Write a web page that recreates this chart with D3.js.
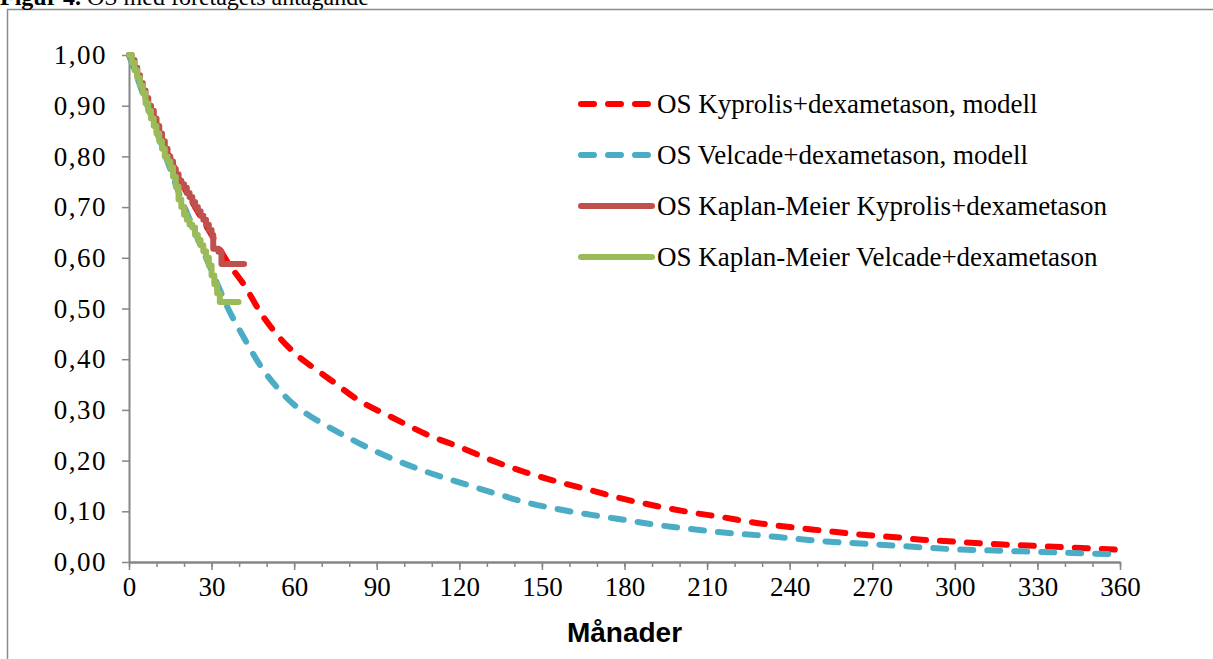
<!DOCTYPE html>
<html>
<head>
<meta charset="utf-8">
<script src="https://cdn.jsdelivr.net/npm/d3@7"></script>
<style>
  body { margin: 0; background: #fff; }
  svg { display: block; }
</style>
</head>
<body>
<div id="vis"></div>
<script>
const WIDTH = 1213;
const HEIGHT = 659;

// months / survival
const modelMonths = [0, 6, 12, 18, 24, 30, 36, 42, 48, 54, 60, 66, 72, 84, 96, 108, 120, 132, 144, 156, 168, 180, 192, 204, 216, 228, 240, 252, 264, 276, 288, 300, 312, 324, 336, 348, 360];
const kyprolisModel = [1.00, 0.92, 0.835, 0.76, 0.70, 0.645, 0.59, 0.545, 0.49, 0.447, 0.413, 0.387, 0.364, 0.317, 0.284, 0.252, 0.227, 0.200, 0.177, 0.158, 0.141, 0.124, 0.110, 0.098, 0.088, 0.077, 0.069, 0.062, 0.055, 0.050, 0.044, 0.040, 0.036, 0.033, 0.030, 0.027, 0.024];
const velcadeModel = [1.00, 0.91, 0.82, 0.73, 0.65, 0.575, 0.50, 0.44, 0.385, 0.343, 0.31, 0.287, 0.268, 0.233, 0.203, 0.178, 0.157, 0.137, 0.118, 0.104, 0.093, 0.083, 0.073, 0.065, 0.058, 0.053, 0.047, 0.041, 0.037, 0.033, 0.029, 0.025, 0.023, 0.021, 0.019, 0.017, 0.015];

const kmKyprolisMonths = [0, 1, 2, 3, 4, 5, 6, 7, 8, 9, 10, 11, 12, 13, 14, 15, 16, 17, 18, 19, 20, 21, 22, 23, 24, 25, 26, 27, 28, 29, 30, 30.6, 32.5, 33.6, 41.8];
const kmKyprolis = [1.00, 0.99, 0.975, 0.96, 0.945, 0.93, 0.915, 0.90, 0.89, 0.875, 0.86, 0.845, 0.83, 0.815, 0.80, 0.79, 0.775, 0.765, 0.752, 0.745, 0.738, 0.728, 0.72, 0.71, 0.70, 0.692, 0.683, 0.675, 0.665, 0.655, 0.645, 0.618, 0.612, 0.588, 0.588];

const kmVelcadeMonths = [0, 1, 2, 3, 4, 5, 6, 7, 8, 9, 10, 11, 12, 13, 14, 15, 16, 17, 18, 19, 20, 21, 22, 23, 24, 25, 26, 27, 28, 29, 30, 31, 32, 33, 39.8];
const kmVelcade = [1.00, 0.985, 0.97, 0.955, 0.94, 0.925, 0.905, 0.89, 0.875, 0.86, 0.845, 0.83, 0.815, 0.80, 0.79, 0.778, 0.76, 0.74, 0.715, 0.70, 0.685, 0.675, 0.665, 0.66, 0.645, 0.635, 0.625, 0.613, 0.60, 0.585, 0.565, 0.548, 0.53, 0.513, 0.513];

const seriesNames = [
  "OS Kyprolis+dexametason, modell",
  "OS Velcade+dexametason, modell",
  "OS Kaplan-Meier Kyprolis+dexametason",
  "OS Kaplan-Meier Velcade+dexametason"
];
const xTicks = d3.range(0, 361, 30);
const xMinorTicks = d3.range(0, 361, 10);
const yTicks = d3.range(0, 1.001, 0.1);

const margin = { top: 55, left: 129, right: 93, bottom: 97 };
const w = WIDTH - margin.left - margin.right;
const h = HEIGHT - margin.top - margin.bottom;

const SVG = d3.select("#vis").append("svg").attr("width", WIDTH).attr("height", HEIGHT);

// outer frame (runs off the right and bottom edge)
SVG.append("rect")
  .attr("x", 7.5).attr("y", 9.5)
  .attr("width", 1300).attr("height", 800)
  .attr("fill", "none").attr("stroke", "#8c8c8c").attr("stroke-width", 1.5);

// title, mostly cropped at the top like the original
const title = SVG.append("text").attr("x", 0).attr("y", 5)
  .attr("font-family", "Liberation Serif").attr("font-size", 24).attr("fill", "#000");
title.append("tspan").attr("font-weight", "bold").text("Figur 4.");
title.append("tspan").text(" OS med företagets antagande");

const escalaX = d3.scaleLinear().domain([0, 360]).range([0, w]);
const escalaY = d3.scaleLinear().domain([0, 1]).range([h, 0]);

const g = SVG.append("g").attr("transform", "translate(" + margin.left + "," + margin.top + ")");

const fmt = d => d.toFixed(2).replace(".", ",");

// y axis
const ejeY = d3.axisLeft(escalaY).tickValues(yTicks).tickFormat(fmt).tickSize(7).tickSizeOuter(0).tickPadding(15);
const gy = g.append("g").call(ejeY);

// x axis minor + major ticks
const gxMinor = g.append("g").attr("transform", "translate(0," + h + ")")
  .call(d3.axisBottom(escalaX).tickValues(xMinorTicks).tickFormat("").tickSize(5).tickSizeOuter(0));
const gx = g.append("g").attr("transform", "translate(0," + h + ")")
  .call(d3.axisBottom(escalaX).tickValues(xTicks).tickSize(8).tickSizeOuter(0).tickPadding(7));

[gy, gx, gxMinor].forEach(ax => {
  ax.selectAll("path.domain").attr("stroke", "#868686").attr("stroke-width", 2);
  ax.selectAll(".tick line").attr("stroke", "#868686").attr("stroke-width", 1.5);
  ax.selectAll("text").attr("font-family", "Liberation Serif").attr("font-size", 27).attr("fill", "#000");
});
gy.selectAll("text").attr("letter-spacing", 1.5);

g.append("text")
  .attr("x", w / 2).attr("y", 642 - margin.top)
  .attr("text-anchor", "middle")
  .attr("font-family", "Liberation Sans").attr("font-weight", "bold").attr("font-size", 28)
  .text("Månader");

const lineSmooth = d3.line().x(d => escalaX(d[0])).y(d => escalaY(d[1])).curve(d3.curveMonotoneX);
const lineStep = d3.line().x(d => escalaX(d[0])).y(d => escalaY(d[1])).curve(d3.curveStepAfter);

const series = [
  { name: seriesNames[0], data: d3.zip(modelMonths, kyprolisModel), gen: lineSmooth, color: "#ff0000", dash: "13,14" },
  { name: seriesNames[1], data: d3.zip(modelMonths, velcadeModel), gen: lineSmooth, color: "#4bacc6", dash: "13,14" },
  { name: seriesNames[2], data: d3.zip(kmKyprolisMonths, kmKyprolis), gen: lineStep, color: "#c0504d", dash: null },
  { name: seriesNames[3], data: d3.zip(kmVelcadeMonths, kmVelcade), gen: lineStep, color: "#9bbb59", dash: null }
];

g.selectAll("path.serie")
  .data(series)
  .join("path")
  .attr("class", "serie")
  .attr("d", d => d.gen(d.data))
  .attr("fill", "none")
  .attr("stroke", d => d.color)
  .attr("stroke-width", 6)
  .attr("stroke-linecap", "round")
  .attr("stroke-linejoin", "round")
  .attr("stroke-dasharray", d => d.dash);

// legend
const legend = SVG.append("g").selectAll("g")
  .data(series)
  .join("g")
  .attr("transform", (d, i) => "translate(581," + (104 + i * 51) + ")");

legend.append("line")
  .attr("x1", 0).attr("x2", 71).attr("y1", 0).attr("y2", 0)
  .attr("stroke", d => d.color)
  .attr("stroke-width", 6)
  .attr("stroke-linecap", "round")
  .attr("stroke-dasharray", d => d.dash);

legend.append("text")
  .attr("x", 76).attr("y", 0).attr("dy", "0.33em")
  .attr("font-family", "Liberation Serif").attr("font-size", 27).attr("fill", "#000")
  .text(d => d.name);
</script>
</body>
</html>
